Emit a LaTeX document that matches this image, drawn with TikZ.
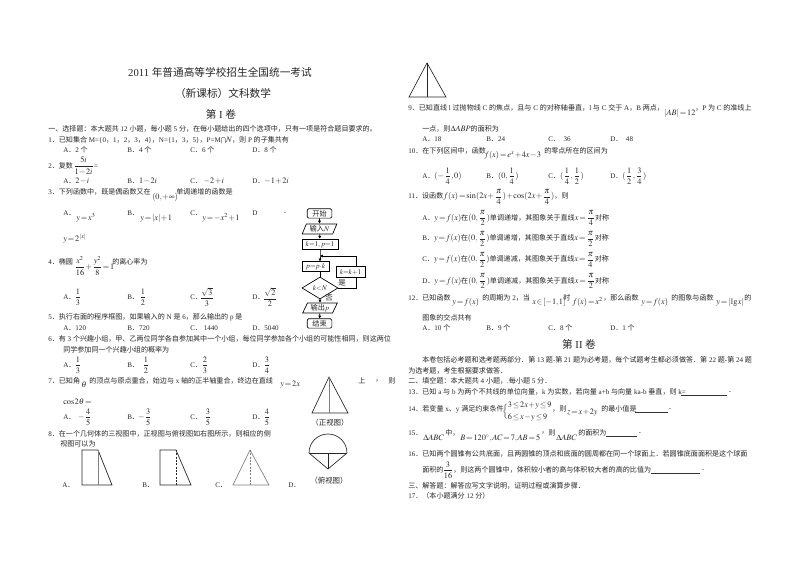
\documentclass[tikz,border=0pt]{standalone}
\usepackage{mathptmx}
\usepackage[no-math]{fontspec}
\usetikzlibrary{shapes.geometric,arrows.meta}
\setmainfont{Liberation Serif}
\newfontfamily\enf{Liberation Serif}
\newfontfamily\cjk{Noto Sans CJK SC}
\newXeTeXintercharclass\cjkcl
\makeatletter
\def\setcl#1#2{\count@=#1\relax\loop\XeTeXcharclass\count@=\cjkcl\relax\ifnum\count@<#2\advance\count@ 1\repeat}
\setcl{"3000}{"303F}\setcl{"4E00}{"9FFF}\setcl{"FF00}{"FFEF}
\makeatother
\XeTeXinterchartokenstate=1
\XeTeXinterchartoks 0 \cjkcl={\cjk}
\XeTeXinterchartoks \cjkcl 0={\enf}
\XeTeXinterchartoks 4095 \cjkcl={\cjk}
\XeTeXinterchartoks \cjkcl 4095={\enf}
\thickmuskip=2mu plus 1mu
\medmuskip=1mu
\thinmuskip=1mu
\newcounter{tn}
\newcommand\Tx[3][]{\stepcounter{tn}\node[txt,#1] (t\number\value{tn}) at (#2) {#3};}
\newcommand\Fm[1]{{\fontsize{6.2}{7}\selectfont\thickmuskip=2mu\medmuskip=1mu\thinmuskip=1mu$#1$}}
\newcommand\Df[2]{{\fontsize{6.2}{7}\selectfont\thickmuskip=2mu\medmuskip=1mu$\displaystyle\frac{#1}{#2}$}}
\tikzset{
 txt/.style={anchor=west,inner sep=0pt,text=black!85,font=\fontsize{5.3}{6.4}\selectfont},
 big/.style={anchor=center,font=\fontsize{8}{9}\selectfont},
 fbox/.style={draw,inner sep=0pt,text=black!85,font=\fontsize{5.4}{6.5}\selectfont,line width=.5pt},
 term/.style={fbox,rounded corners=1pt,minimum width=18.5pt,minimum height=7pt},
 proc/.style={fbox,minimum height=8pt},
 io/.style={fbox,trapezium,trapezium left angle=65,trapezium right angle=115,trapezium stretches=true,minimum width=26pt,minimum height=7.5pt},
 dec/.style={fbox,diamond,aspect=1.64,minimum width=27pt,minimum height=16.5pt},
 arr/.style={-{Latex[length=2.2pt,width=2.4pt]},line width=.5pt},
 fig/.style={line width=.5pt,black!85},
 figg/.style={line width=.5pt,black!50},
 ubar/.style={line width=.4pt,black!80},
 figcap/.style={anchor=center,font=\fontsize{5.6}{6.5}\selectfont},
}
\begin{document}
\begin{tikzpicture}[x=0.75pt,y=-0.75pt]
\useasboundingbox (0,0) rectangle (800,566);
\fill[white] (0,0) rectangle (800,566);
% ---- left column
\Tx[big]{220,72}{2011 年普通高等学校招生全国统一考试}
\Tx[big]{223,93}{（新课标）文科数学}
\Tx[big]{221,114}{第 I 卷}
\Tx{48,129}{一、选择题：本大题共 12 小题，每小题 5 分，在每小题给出的四个选项中，只有一项是符合题目要求的。}
\Tx{48,140}{1．已知集合 M=\{0，1，2，3，4\}，N=\{1，3，5\}，P=M\smash{$\bigcap$}\Fm{N}，则 P 的子集共有}
\Tx{63,150}{A．2 个}\Tx{127,150}{B．4 个}\Tx{190,150}{C．6 个}\Tx{252,150}{D．8 个}
\Tx{48,166}{2．复数\Df{5i}{1-2i}=}
\Tx{63,181}{A．\Fm{2-i}}\Tx{127,181}{B．\Fm{1-2i}}\Tx{190,181}{C．\ \Fm{-2+i}}\Tx{252,181}{D．\Fm{-1+2i}}
\Tx{48,192}{3．下列函数中，既是偶函数又在}\Tx{152,197}{\Fm{(0,+\infty)}}\Tx{176,192}{单调递增的函数是}
\Tx{63,213}{A．}\Tx{76,218}{\Fm{y=x^3}}
\Tx{127,213}{B．}\Tx{140,218}{\Fm{y=|x|+1}}
\Tx{190,213}{C．}\Tx{202,218}{\Fm{y=-x^2+1}}
\Tx{252,213}{D}\Tx{283,213}{．}
\Tx{63,239}{\Fm{y=2^{\,|x|}}}
\Tx{48,262}{4．椭圆}\Tx{74,266}{\Df{x^2}{16}\Fm{+}\Df{y^2}{8}\Fm{=1}}\Tx{112,262}{的离心率为}
\Tx{63,297}{A．}\Tx[anchor=center]{78,297}{\Df{1}{3}}
\Tx{127,297}{B．}\Tx[anchor=center]{143,297}{\Df{1}{2}}
\Tx{190,297}{C．}\Tx[anchor=center]{207,297}{\Df{\sqrt{3}}{3}}
\Tx{252,297}{D．}\Tx[anchor=center]{270,297}{\Df{\sqrt{2}}{2}}
\Tx{48,317}{5．执行右面的程序框图，如果输入的 N 是 6，那么输出的 p 是}
\Tx{63,328}{A．120}\Tx{127,328}{B．720}\Tx{190,328}{C．\ 1440}\Tx{252,328}{D．5040}
\Tx{48,339}{6．有 3 个兴趣小组，甲、乙两位同学各自参加其中一个小组，每位同学参加各个小组的可能性相同，则这两位}
\Tx{63,350}{同学参加同一个兴趣小组的概率为}
\Tx{63,365}{A．}\Tx[anchor=center]{78,365}{\Df{1}{3}}
\Tx{127,365}{B．}\Tx[anchor=center]{146,365}{\Df{1}{2}}
\Tx{190,365}{C．}\Tx[anchor=center]{205,365}{\Df{2}{3}}
\Tx{252,365}{D．}\Tx[anchor=center]{267,365}{\Df{3}{4}}
\Tx{48,381}{7．已知角}\Tx{81,385}{\Fm{\theta}}\Tx{89,381}{的顶点与原点重合，始边与 x 轴的正半轴重合，终边在直线}
\Tx{280,385}{\Fm{y=2x}}\Tx{358,381}{上}\Tx{375,381}{，}\Tx{388,381}{则}
\Tx{63,402}{\Fm{\cos 2\theta=}}
\Tx{63,417}{A．}\Tx[anchor=center]{85,417}{\Fm{-}\Df{4}{5}}
\Tx{127,417}{B．}\Tx[anchor=center]{145,417}{\Fm{-}\Df{3}{5}}
\Tx{190,417}{C．}\Tx[anchor=center]{208,417}{\Df{3}{5}}
\Tx{252,417}{D．}\Tx[anchor=center]{267,417}{\Df{4}{5}}
\Tx{48,434}{8．在一个几何体的三视图中，正视图与俯视图如右图所示，则相应的侧}
\Tx{60,444}{视图可以为}
% side views
\draw[fig] (98,450) -- (82,450) -- (82,485) -- (112,485) -- cycle;
\draw[figg] (98,450) -- (98,485);
\Tx{62,485}{A．}
\draw[fig] (176,450) -- (160,450) -- (160,485) -- (191,485) -- cycle;
\draw[fig,dash pattern=on 1.5pt off 1pt] (176,450) -- (176,485);
\Tx{142,485}{B．}
\draw[figg] (250,450) -- (233,485) -- (269,485) -- cycle;
\draw[figg,dash pattern=on 1.5pt off 1pt] (250,450) -- (250,485);
\Tx{215,485}{C．}
\Tx{288,485}{D．}
% front / top view
\draw[fig] (329,377) -- (312,413) -- (348,413) -- cycle;
\draw[figg] (329,377) -- (329,413);
\Tx[figcap]{330,423}{（正视图）}
\draw[fig] (309,453) arc[start angle=180,end angle=360,radius=19] -- (328,469) -- cycle;
\draw[fig] (309,453) -- (347,453);
\draw[fig] (328,453) -- (328,469);
\Tx[figcap]{329,481}{（俯视图）}
% flowchart
\node[term] (st) at (319.5,213.5) {开始};
\node[io] (inp) at (319.5,229) {输入$N$};
\node[proc,minimum width=27pt] (kp) at (320,244.5) {$k{=}1,\,p{=}1$};
\coordinate (jn) at (320,256);
\node[proc,minimum width=20pt,minimum height=7pt] (pk) at (315.5,266.5) {$p{=}p{\cdot}k$};
\node[dec] (dia) at (320,288) {$k{<}N$};
\node[proc,minimum width=22pt] (inc) at (350.5,272) {$k{=}k{+}1$};
\node[io] (out) at (320,308) {输出$p$};
\node[term] (en) at (319.5,323.5) {结束};
\draw[arr] (st) -- (inp);
\draw[arr] (inp) -- (kp);
\draw[arr] (kp) -- (jn) -- (jn |- pk.north);
\draw[line width=.6pt] (jn |- pk.south) -- (dia.north);
\draw[line width=.5pt] (dia.east) -| ([xshift=4pt]inc.south);
\draw[arr] ([xshift=4pt]inc.north) |- (jn);
\draw[arr] (dia.south) -- (out);
\draw[arr] (out) -- (en);
\Tx[figcap]{342,283}{是}
\Tx[figcap]{329,298}{否}
% ---- right column
\draw[fig] (427,63) -- (409,97) -- (446,97) -- cycle;
\draw[fig] (427,63) -- (427,97);
\Tx{408,108}{9．已知直线 l 过抛物线 C 的焦点，且与 C 的对称轴垂直，l 与 C 交于 A，B 两点，}
\Tx{664,113}{\Fm{|AB|=12}}\Tx{695,108}{，P 为 C 的准线上}
\Tx{422,129}{一点，则\Fm{\Delta ABP}的面积为}
\Tx{422,139}{A．18}\Tx{486,139}{B．24}\Tx{548,139}{C．\ \ 36}\Tx{610,139}{D．\ \ 48}
\Tx{408,151}{10．在下列区间中，函数}\Tx{484,155}{\Fm{f(x)=e^x+4x-3}}\Tx{544,151}{的零点所在的区间为}
\Tx{422,176}{A．\Fm{(-\displaystyle\frac{1}{4},0)}}
\Tx{486,176}{B．\Fm{(0,\displaystyle\frac{1}{4})}}
\Tx{548,176}{C．\Fm{(\displaystyle\frac{1}{4},\frac{1}{2})}}
\Tx{610,176}{D．\Fm{(\displaystyle\frac{1}{2},\frac{3}{4})}}
\Tx{408,197}{11．设函数\Fm{f(x)=\sin(2x+\displaystyle\frac{\pi}{4})+\cos(2x+\frac{\pi}{4})}，则}
\Tx{422,218}{A．\Fm{y=f(x)}在\Fm{(0,\displaystyle\frac{\pi}{2})}单调递增，其图象关于直线\Fm{x=\displaystyle\frac{\pi}{4}}对称}
\Tx{422,239}{B．\Fm{y=f(x)}在\Fm{(0,\displaystyle\frac{\pi}{2})}单调递增，其图象关于直线\Fm{x=\displaystyle\frac{\pi}{2}}对称}
\Tx{422,260}{C．\Fm{y=f(x)}在\Fm{(0,\displaystyle\frac{\pi}{2})}单调递减，其图象关于直线\Fm{x=\displaystyle\frac{\pi}{4}}对称}
\Tx{422,281}{D．\Fm{y=f(x)}在\Fm{(0,\displaystyle\frac{\pi}{2})}单调递减，其图象关于直线\Fm{x=\displaystyle\frac{\pi}{2}}对称}
\Tx{408,298}{12．已知函数}\Tx{452,302}{\Fm{y=f(x)}}\Tx{482,298}{的周期为 2，当}
\Tx{532,302}{\Fm{x\in[-1,1]}}\Tx{563,298}{时}\Tx{572,302}{\Fm{f(x)=x^2}}\Tx{603,298}{，那么函数}
\Tx{641,302}{\Fm{y=f(x)}}\Tx{671,298}{的图象与函数}\Tx{716,302}{\Fm{y=|\lg x|}}\Tx{744,298}{的}
\Tx{422,318}{图象的交点共有}
\Tx{422,328}{A．10 个}\Tx{486,328}{B．9 个}\Tx{548,328}{C．8 个}\Tx{610,328}{D．1 个}
\Tx[big]{579,344}{第 II 卷}
\Tx{422,360}{本卷包括必考题和选考题两部分．第 13 题-第 21 题为必考题，每个试题考生都必须做答．第 22 题-第 24 题}
\Tx{408,371}{为选考题，考生根据要求做答．}
\Tx{408,381}{二、填空题：本大题共 4 小题，.每小题 5 分．}
\Tx{408,392}{13．已知 a 与 b 为两个不共线的单位向量，k 为实数，若向量 a+b 与向量 ka-b 垂直，则 k=}
\draw[ubar] (681,395) -- (727,395);\Tx{728,392}{．}
\Tx{408,409}{14．若变量 x、y 满足约束条件}
\Tx{502,411.5}{\delimitershortfall=8pt\delimiterfactor=700\Fm{\left\{\begin{array}{@{}l@{}}3\le 2x+y\le 9\\[1.5pt]6\le x-y\le 9\end{array}\right.}}
\Tx{552,409}{，则}\Tx{567,413}{\Fm{z=x+2y}}\Tx{601,409}{的最小值是}
\draw[ubar] (635,412) -- (668,412);\Tx{668,409}{．}
\Tx{408,433}{15．}\Tx{423,438}{\Fm{\Delta ABC}}\Tx{445,433}{中，}
\Tx{460,438}{\Fm{B=120^\circ,AC=7,AB=5}}\Tx{541,433}{，}\Tx{548,433}{则}
\Tx{556,438}{\Fm{\Delta ABC}}\Tx{578,433}{的面积为}
\draw[ubar] (606,436) -- (637,436);\Tx{638,433}{．}
\Tx{408,454}{16．已知两个圆锥有公共底面，且两圆锥的顶点和底面的圆周都在同一个球面上．若圆锥底面面积是这个球面}
\Tx{422,470}{面积的}\Tx[anchor=center]{448,470}{\Df{3}{16}}\Tx{453,470}{，则这两个圆锥中，体积较小者的高与体积较大者的高的比值为}
\draw[ubar] (651,473) -- (700,473);\Tx{701,470}{．}
\Tx{408,486}{三、解答题：解答应写文字说明，证明过程或演算步骤．}
\Tx{408,496}{17．（本小题满分 12 分）}
\end{tikzpicture}
\end{document}
